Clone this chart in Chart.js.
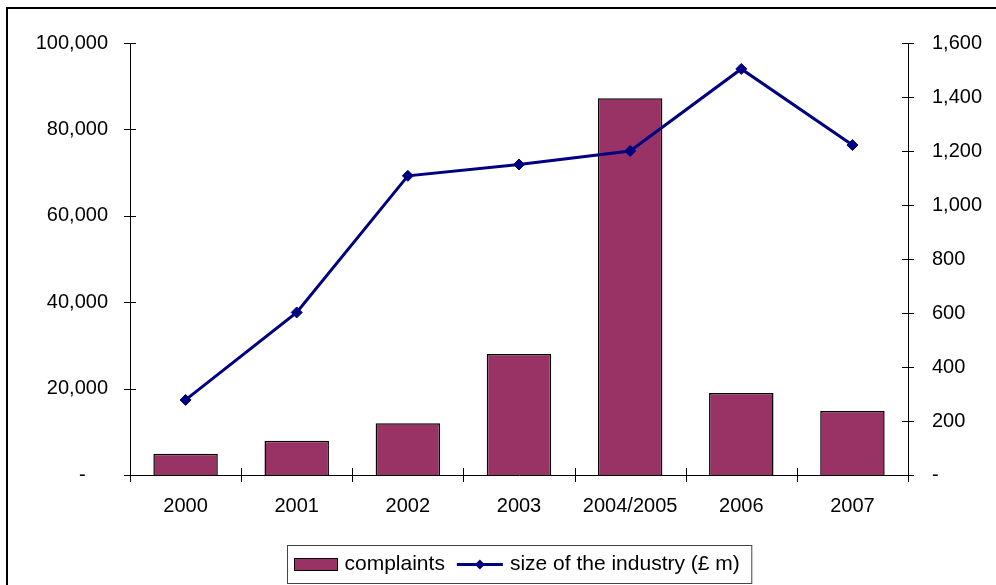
<!DOCTYPE html>
<html>
<head>
<meta charset="utf-8">
<script src="https://cdn.jsdelivr.net/npm/chart.js@4.4.1/dist/chart.umd.min.js"></script>
<style>
  html, body { margin: 0; padding: 0; background: #fff; overflow: hidden; }
  #wrap { position: relative; width: 996px; height: 585px; }
  #frame { position: absolute; left: 6px; top: 7px; width: 1200px; height: 800px; border: 2px solid #000; box-sizing: border-box; }
  canvas { position: absolute; left: 0; top: 0; }
</style>
</head>
<body>
<div id="wrap">
  <div id="frame"></div>
  <canvas id="chart" width="996" height="585"></canvas>
</div>
<script>
// ================= DATA =================
const years = ["2000", "2001", "2002", "2003", "2004/2005", "2006", "2007"];
const complaints = [4900, 7900, 12000, 28000, 87200, 19000, 14800];
const industrySize = [278, 602, 1108, 1150, 1200, 1504, 1222];
const leftTicks = [0, 20000, 40000, 60000, 80000, 100000];
const rightTicks = [0, 200, 400, 600, 800, 1000, 1200, 1400, 1600];

const FONT = '"Liberation Sans", Arial, sans-serif';
Chart.defaults.font.family = FONT;
Chart.defaults.font.size = 20;
Chart.defaults.color = "#000";

// ================= PLUGINS =================
// tick marks that cross the axis lines (Excel style)
const crossTicks = {
  id: "crossTicks",
  afterDraw(chart) {
    const ctx = chart.ctx;
    const area = chart.chartArea;
    const x = chart.scales.x, yl = chart.scales.y, yr = chart.scales.y1;
    ctx.save();
    ctx.strokeStyle = "#000";
    ctx.lineWidth = 1;
    ctx.beginPath();
    yl.ticks.forEach((t, i) => {
      const py = Math.round(yl.getPixelForTick(i)) + 0.5;
      ctx.moveTo(area.left - 6, py);
      ctx.lineTo(area.left + 6, py);
    });
    yr.ticks.forEach((t, i) => {
      const py = Math.round(yr.getPixelForTick(i)) + 0.5;
      ctx.moveTo(area.right - 6, py);
      ctx.lineTo(area.right + 6, py);
    });
    const n = years.length;
    for (let i = 0; i <= n; i++) {
      let px;
      if (i === 0) px = area.left;
      else if (i === n) px = area.right;
      else px = (x.getPixelForValue(i - 1) + x.getPixelForValue(i)) / 2;
      px = Math.round(px) + 0.5;
      ctx.moveTo(px, area.bottom - 7);
      ctx.lineTo(px, area.bottom + 7);
    }
    ctx.stroke();
    ctx.restore();
  }
};

// boxed legend under the plot
const boxLegend = {
  id: "boxLegend",
  afterDraw(chart) {
    const ctx = chart.ctx;
    const area = chart.chartArea;
    const bar = chart.data.datasets[0];
    const line = chart.data.datasets[1];
    ctx.save();
    ctx.font = "21px " + FONT;
    const w1 = ctx.measureText(bar.label).width;
    const w2 = ctx.measureText(line.label).width;
    const total = 134 + w1 + w2;
    const left = Math.round((area.left + area.right) / 2 - total / 2) + 0.5;
    const top = area.bottom + 70.5;
    const h = 38;
    const mid = top + 19;

    ctx.strokeStyle = "#444";
    ctx.lineWidth = 1;
    ctx.strokeRect(left, top, total, h);

    // bar swatch
    let cx = left + 7;
    ctx.fillStyle = bar.backgroundColor;
    ctx.fillRect(cx, mid - 6, 43, 12);
    ctx.strokeStyle = "#000";
    ctx.strokeRect(cx, mid - 6, 43, 12);
    cx += 50;
    ctx.fillStyle = "#000";
    ctx.textBaseline = "middle";
    ctx.fillText(bar.label, cx, mid);
    cx += w1 + 12;

    // line + diamond
    ctx.strokeStyle = line.borderColor;
    ctx.lineWidth = 3;
    ctx.beginPath();
    ctx.moveTo(cx, mid);
    ctx.lineTo(cx + 46, mid);
    ctx.stroke();
    const dx = cx + 23;
    ctx.fillStyle = line.borderColor;
    ctx.beginPath();
    ctx.moveTo(dx - 5, mid);
    ctx.lineTo(dx, mid - 5);
    ctx.lineTo(dx + 5, mid);
    ctx.lineTo(dx, mid + 5);
    ctx.closePath();
    ctx.fill();
    cx += 53;
    ctx.fillStyle = "#000";
    ctx.fillText(line.label, cx, mid);
    ctx.restore();
  }
};

// ================= CHART =================
const ctx = document.getElementById("chart").getContext("2d");

const chart = new Chart(ctx, {
  type: "bar",
  data: {
    labels: years,
    datasets: [
      {
        type: "bar",
        label: "complaints",
        data: complaints,
        yAxisID: "y",
        backgroundColor: "#993366",
        borderColor: "#000",
        borderWidth: 1.5,
        barPercentage: 0.58,
        categoryPercentage: 1,
        order: 2
      },
      {
        type: "line",
        label: "size of the industry (£ m)",
        data: industrySize,
        yAxisID: "y1",
        borderColor: "#000080",
        backgroundColor: "#000080",
        borderWidth: 3,
        pointStyle: "rectRot",
        pointRadius: 5.5,
        pointBorderWidth: 1,
        tension: 0,
        order: 1
      }
    ]
  },
  options: {
    responsive: false,
    animation: false,
    devicePixelRatio: 1,
    layout: { padding: { left: 0, top: 43, right: 0, bottom: 0 } },
    plugins: {
      legend: { display: false },
      tooltip: { enabled: false }
    },
    scales: {
      x: {
        grid: { display: false },
        border: { display: true, color: "#000", width: 1 },
        ticks: { padding: 11, maxRotation: 0, autoSkip: false },
        afterFit: s => { s.height = 110; }
      },
      y: {
        position: "left",
        min: 0,
        max: 100000,
        grid: { display: false },
        border: { display: true, color: "#000", width: 1 },
        ticks: {
          padding: 14,
          callback: v => v === 0 ? "-    " : v.toLocaleString("en-US")
        },
        afterBuildTicks: s => { s.ticks = leftTicks.map(v => ({ value: v })); },
        afterFit: s => { s.width = 130; }
      },
      y1: {
        position: "right",
        min: 0,
        max: 1600,
        grid: { display: false },
        border: { display: true, color: "#000", width: 1 },
        ticks: {
          padding: 16,
          callback: v => v === 0 ? "-" : v.toLocaleString("en-US")
        },
        afterBuildTicks: s => { s.ticks = rightTicks.map(v => ({ value: v })); },
        afterFit: s => { s.width = 88; }
      }
    }
  },
  plugins: [crossTicks, boxLegend]
});
</script>
</body>
</html>
